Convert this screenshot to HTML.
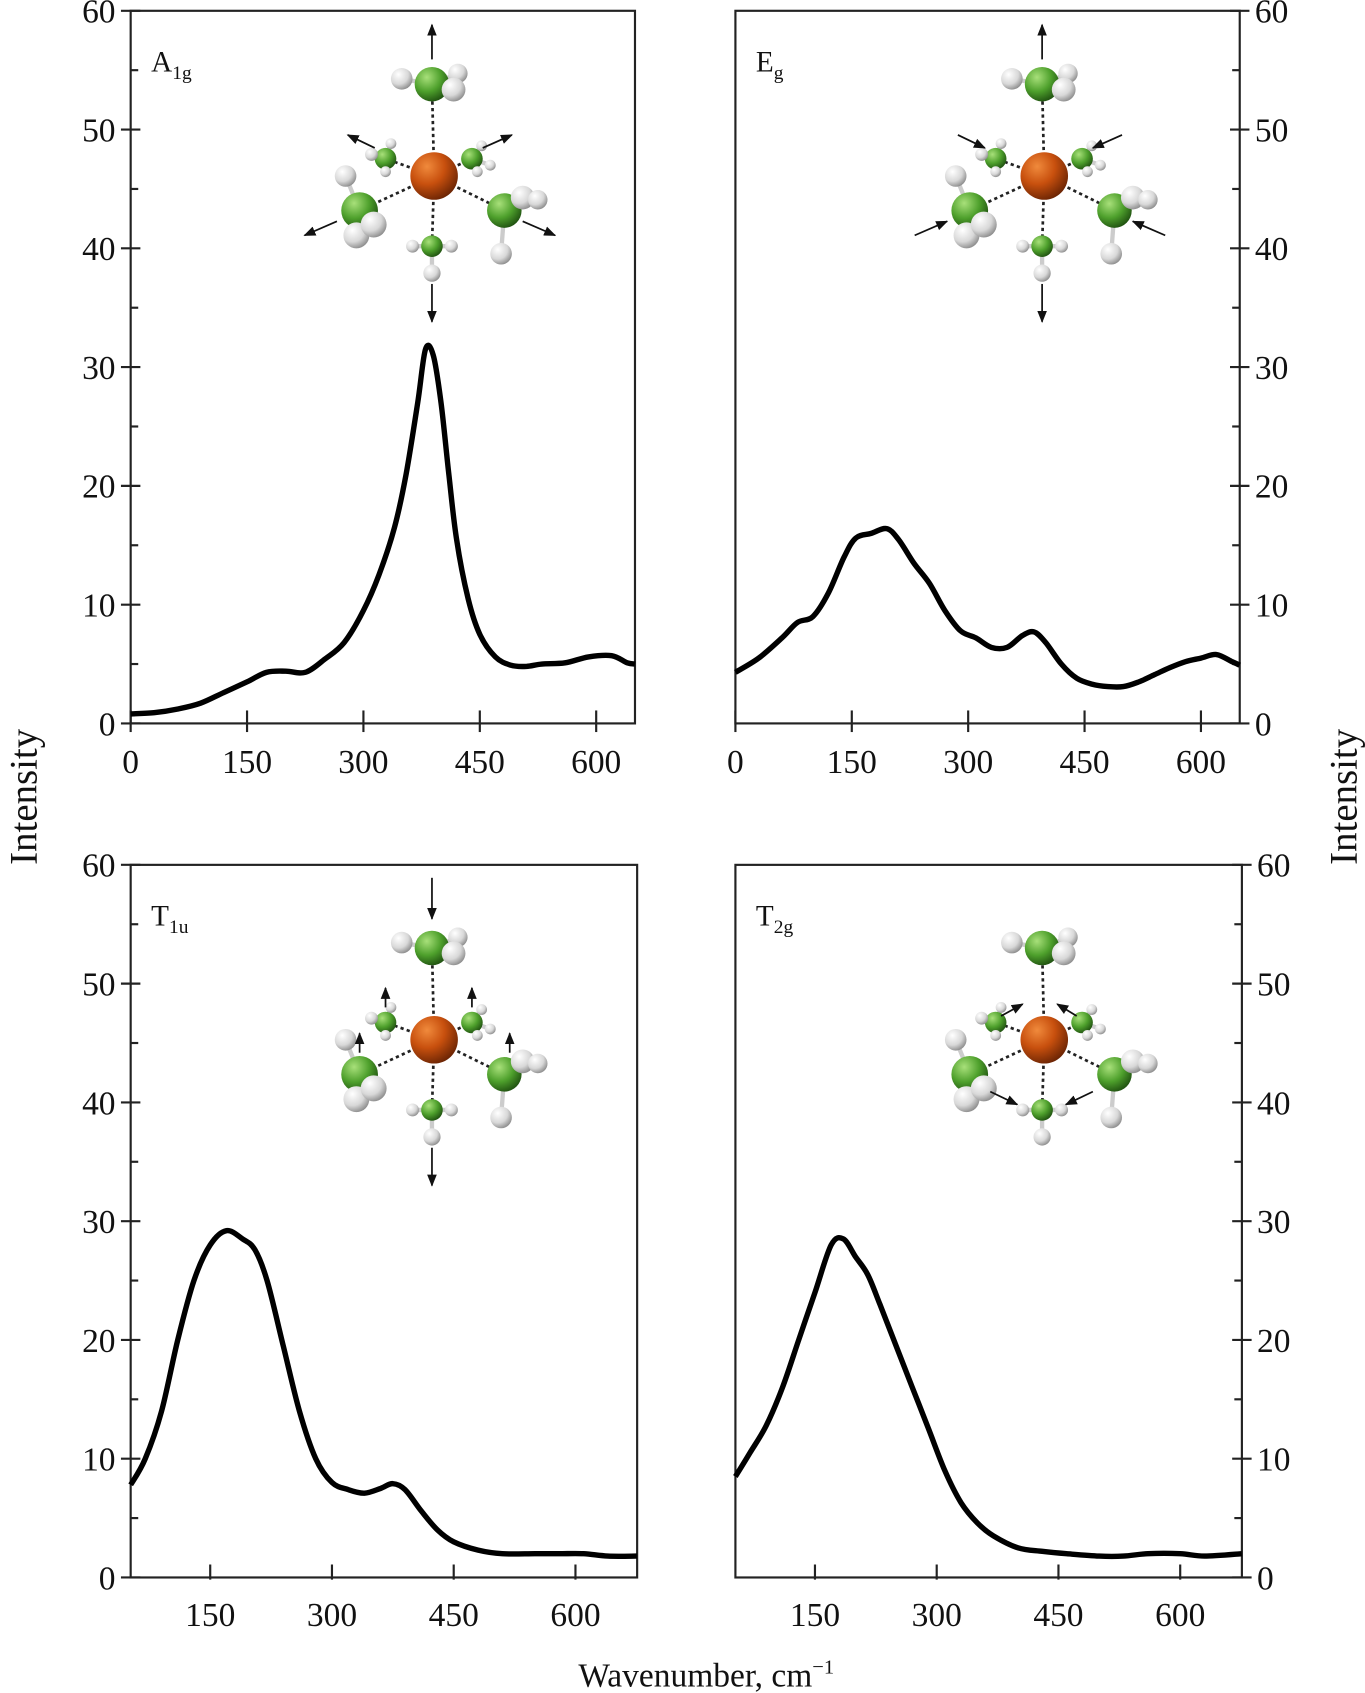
<!DOCTYPE html>
<html><head><meta charset="utf-8"><style>
html,body{margin:0;padding:0;background:#fff}
svg{display:block}
text{font-family:"Liberation Serif",serif;fill:#111}
</style></head><body>
<svg id="fig" width="1365" height="1693" viewBox="0 0 1264 1568" preserveAspectRatio="none" xmlns="http://www.w3.org/2000/svg">
<defs>
<radialGradient id="gOr" cx="0.35" cy="0.3" r="0.75"><stop offset="0" stop-color="#f08a3c"/><stop offset="0.5" stop-color="#c8500e"/><stop offset="1" stop-color="#6a2404"/></radialGradient>
<radialGradient id="gGr" cx="0.35" cy="0.3" r="0.75"><stop offset="0" stop-color="#a8e07a"/><stop offset="0.55" stop-color="#4ea02c"/><stop offset="1" stop-color="#1f5010"/></radialGradient>
<radialGradient id="gWh" cx="0.35" cy="0.3" r="0.75"><stop offset="0" stop-color="#ffffff"/><stop offset="0.6" stop-color="#d8d8d8"/><stop offset="1" stop-color="#8a8a8a"/></radialGradient>
<marker id="ah" viewBox="0 0 10 10" refX="9" refY="5" markerWidth="7" markerHeight="7" orient="auto"><path d="M0,1 L10,5 L0,9 z" fill="#111"/></marker>
</defs>
<g id="root"></g>
<text x="0" y="0" font-size="36" transform="translate(34,738) rotate(-90)" text-anchor="middle">Intensity</text>
<text x="0" y="0" font-size="36" transform="translate(1256,738) rotate(-90)" text-anchor="middle">Intensity</text>
<text x="654" y="1562" font-size="31" text-anchor="middle">Wavenumber, cm<tspan font-size="19" dy="-12">−1</tspan></text>
</svg>
<script>
// ---- data ----
const a1gX=[0,30,60,90,120,150,175,200,225,250,275,300,320,340,355,370,380,390,400,410,420,435,450,470,490,510,530,560,590,620,640,650];
const a1gY=[0.8,0.9,1.2,1.7,2.6,3.5,4.3,4.4,4.3,5.4,6.8,9.5,12.5,16.5,21,27,31.5,31,27,21,15.5,10.5,7.5,5.6,4.9,4.8,5,5.1,5.6,5.7,5.1,5.0];
const egX=[0,30,60,80,100,120,140,155,175,195,210,230,250,270,290,310,330,350,370,385,400,420,440,460,480,500,520,540,560,580,600,620,640,650];
const egY=[4.3,5.5,7.2,8.5,9,11,14,15.6,16,16.4,15.5,13.5,11.8,9.5,7.8,7.2,6.4,6.4,7.4,7.7,6.8,5,3.8,3.3,3.1,3.1,3.5,4.1,4.7,5.2,5.5,5.8,5.2,4.9];
const t1uX=[52,70,90,110,130,150,170,190,205,220,240,260,280,300,320,340,360,375,390,410,430,450,480,510,550,580,610,640,676];
const t1uY=[7.8,10,14,20,25,28,29.2,28.5,27.6,25,19.5,14,10,8,7.4,7.1,7.5,7.9,7.4,5.6,4,3,2.3,2,2,2,2,1.8,1.8];
const t2gX=[52,70,90,110,130,150,170,185,200,215,230,250,270,290,310,330,350,370,400,430,460,500,530,560,600,630,676];
const t2gY=[8.5,10.5,12.8,16,20,24,28,28.5,27,25.5,23,19.5,16,12.5,9,6.3,4.6,3.5,2.5,2.2,2,1.8,1.8,2,2,1.8,2];
const yTicks=[0,10,20,30,40,50,60];
const xTicksTop=[0,150,300,450,600];
const xTicksBot=[150,300,450,600];

const NS="http://www.w3.org/2000/svg";
const root=document.getElementById('root');
function mk(tag,attrs,parent){const e=document.createElementNS(NS,tag);for(const k in attrs)e.setAttribute(k,attrs[k]);(parent||root).appendChild(e);return e;}

const panels=[
 {id:'a1g',L:121,R:588,T:10,B:670,xmin:0,xmax:650,side:'left',xs:a1gX,ys:a1gY,xt:xTicksTop,lab:'A',sub:'1g',mc:[402,163]},
 {id:'eg',L:681,R:1148,T:10,B:670,xmin:0,xmax:650,side:'right',xs:egX,ys:egY,xt:xTicksTop,lab:'E',sub:'g',mc:[967,163]},
 {id:'t1u',L:121,R:590,T:801,B:1461,xmin:52,xmax:676,side:'left',xs:t1uX,ys:t1uY,xt:xTicksBot,lab:'T',sub:'1u',mc:[402,963]},
 {id:'t2g',L:681,R:1150,T:801,B:1461,xmin:52,xmax:676,side:'right',xs:t2gX,ys:t2gY,xt:xTicksBot,lab:'T',sub:'2g',mc:[967,963]}
];

function smoothPath(pts){
 let d='M'+pts[0][0].toFixed(1)+','+pts[0][1].toFixed(1);
 for(let i=0;i<pts.length-1;i++){
  const p0=pts[Math.max(0,i-1)],p1=pts[i],p2=pts[i+1],p3=pts[Math.min(pts.length-1,i+2)];
  const c1=[p1[0]+(p2[0]-p0[0])/6,p1[1]+(p2[1]-p0[1])/6];
  const c2=[p2[0]-(p3[0]-p1[0])/6,p2[1]-(p3[1]-p1[1])/6];
  d+=' C'+c1[0].toFixed(1)+','+c1[1].toFixed(1)+' '+c2[0].toFixed(1)+','+c2[1].toFixed(1)+' '+p2[0].toFixed(1)+','+p2[1].toFixed(1);
 }
 return d;
}

function molecule(g,cx,cy,kind){
 const greens=[[-2,-85,16],[-45,-16,10],[35,-16,10],[-69,32,17],[65,32,16],[-2,65,10]];
 const hs=[[[-30,-90,10],[22,-95,9],[18,-80,11]],[[-58,-20,6],[-40,-30,5],[-45,-4,5]],[[44,-28,5],[52,-10,5],[40,-4,5]],[[-82,0,10],[-72,55,12],[-56,45,12]],[[82,20,11],[96,22,9],[62,72,10]],[[-20,65,6],[16,65,6],[-2,90,8]]];
 greens.forEach((gp,i)=>{
  const l=mk('line',{x1:cx,y1:cy,x2:cx+gp[0],y2:cy+gp[1],stroke:'#222','stroke-width':2.5,'stroke-dasharray':'3,3'},g);
  
  
 });
 greens.forEach((gp,i)=>{
  hs[i].forEach(h=>{
   const hb=mk('line',{x1:cx+gp[0],y1:cy+gp[1],x2:cx+h[0],y2:cy+h[1],stroke:'#ccc','stroke-width':4},g);
   
   
  });
  const c=mk('circle',{cx:cx+gp[0],cy:cy+gp[1],r:gp[2],fill:'url(#gGr)'},g);
  
  
  hs[i].forEach(h=>{
   const hc=mk('circle',{cx:cx+h[0],cy:cy+h[1],r:h[2],fill:'url(#gWh)'},g);
   
   
  });
 });
 const m=mk('circle',{cx:cx,cy:cy,r:22,fill:'url(#gOr)'},g);
 
 
 const arrows={
  a1g:[[-2,-108,-2,-140],[-2,100,-2,135],[-55,-26,-80,-38],[45,-26,72,-38],[-90,42,-120,55],[82,42,112,55]],
  eg:[[-2,-108,-2,-140],[-2,100,-2,135],[-80,-38,-55,-26],[72,-38,45,-26],[-120,55,-90,42],[112,55,82,42]],
  t1u:[[-2,-150,-2,-112],[-2,100,-2,135],[-45,-30,-45,-48],[35,-30,35,-48],[-69,12,-69,-6],[70,12,70,-6]],
  t2g:[[-40,-22,-20,-33],[30,-22,12,-33],[-50,48,-25,60],[45,48,20,60]]
 }[kind];
 arrows.forEach(a=>{
  const ar=mk('line',{x1:cx+a[0],y1:cy+a[1],x2:cx+a[2],y2:cy+a[3],stroke:'#111','stroke-width':1.6,'marker-end':'url(#ah)'},g);
  
  
 });
}

panels.forEach(p=>{
 const g=mk('g',{});
 
 
 const sx=v=>p.L+(v-p.xmin)/(p.xmax-p.xmin)*(p.R-p.L);
 const sy=v=>p.B-(v/60)*(p.B-p.T);
 const fr=mk('rect',{x:p.L,y:p.T,width:p.R-p.L,height:p.B-p.T,fill:'none',stroke:'#222','stroke-width':2},g);
 
 
 const ax=p.side==='left'?p.L:p.R;
 const dir=p.side==='left'?1:-1;
 for(let v=0;v<=60;v+=5){
  const maj=v%10===0;
  const t=mk('line',{x1:maj?ax-9*dir:ax,y1:sy(v),x2:ax+dir*(maj?9:7),y2:sy(v),stroke:'#222','stroke-width':2},g);
  
  
 }
 yTicks.forEach(v=>{
  const tx=mk('text',{x:p.side==='left'?ax-14:ax+14,y:sy(v)+11,'font-size':31,'text-anchor':p.side==='left'?'end':'start'},g);
  tx.textContent=v;
  
  
 });
 p.xt.forEach(v=>{
  const t=mk('line',{x1:sx(v),y1:p.B-12,x2:sx(v),y2:p.B+(p.xmin===0?8:2),stroke:'#222','stroke-width':2},g);
  
  
  const tx=mk('text',{x:sx(v),y:p.B+(p.xmin===0?46:45),'font-size':31,'text-anchor':'middle'},g);
  tx.textContent=v;
  
  
 });
 const pts=p.xs.map((x,i)=>[sx(x),sy(p.ys[i])]);
 const path=mk('path',{d:smoothPath(pts),fill:'none',stroke:'#000','stroke-width':5,'stroke-linejoin':'round'},g);
 
 
 const lb=mk('text',{x:p.L+19,y:p.T+56,'font-size':27},g);
 
 
 lb.innerHTML=p.lab+'<tspan font-size="18" dy="7">'+p.sub+'</tspan>';
 const mg=mk('g',{},g);
 
 
 molecule(mg,p.mc[0],p.mc[1],p.id);
});
</script>
</body></html>
